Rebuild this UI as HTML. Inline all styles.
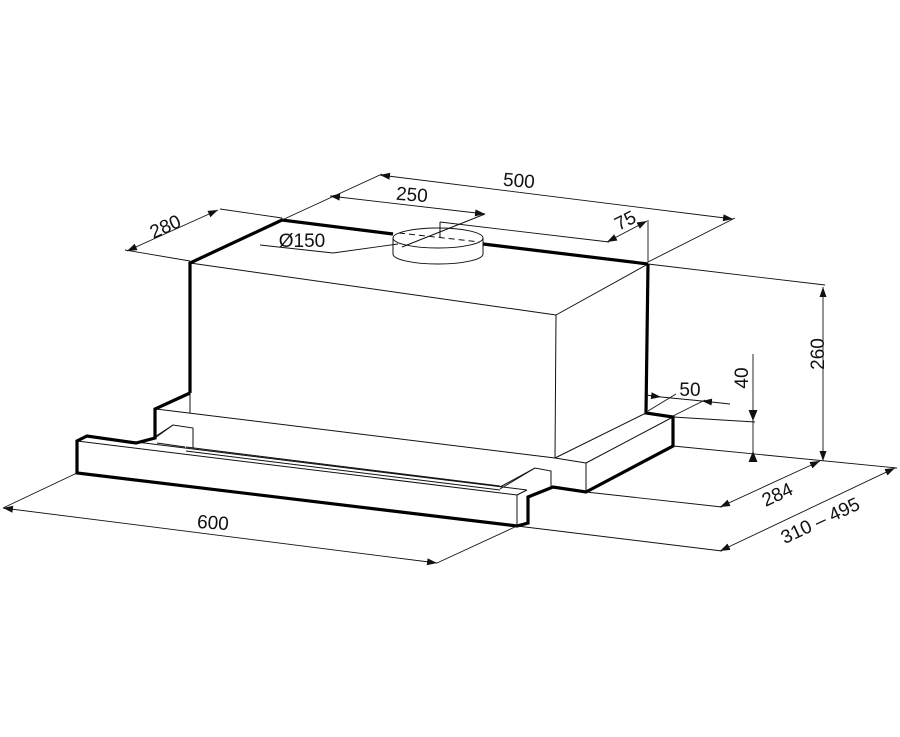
<!DOCTYPE html>
<html><head><meta charset="utf-8"><style>
html,body{margin:0;padding:0;background:#fff;}
svg{display:block;}
text{font-family:"Liberation Sans",sans-serif;font-size:19px;fill:#111;}
</style></head><body>
<svg width="900" height="737" viewBox="0 0 900 737" xmlns="http://www.w3.org/2000/svg">
<defs>
<marker id="a" viewBox="0 0 10 10" refX="10" refY="5" markerWidth="10" markerHeight="10" orient="auto-start-reverse" markerUnits="userSpaceOnUse"><path d="M0,1.5 L10,5 L0,8.5 z" fill="#111"/></marker>
</defs>
<g stroke="#111" fill="none" stroke-width="1">
<line x1="190" y1="263" x2="556" y2="315"/>
<line x1="556" y1="315" x2="648" y2="264"/>
<line x1="556" y1="315" x2="555" y2="458"/>
<line x1="190" y1="393" x2="190" y2="413"/>
<line x1="156" y1="409" x2="555" y2="458"/>
<line x1="555" y1="458" x2="586" y2="463"/>
<line x1="586" y1="463" x2="586" y2="492"/>
<line x1="555" y1="458" x2="646" y2="413"/>
<line x1="586" y1="463" x2="673" y2="417"/>
<polyline points="155,438 173,425 193,428 193,448"/>
<line x1="157" y1="443" x2="185" y2="447"/>
<line x1="173" y1="425" x2="150" y2="440"/>
<line x1="186" y1="447" x2="500" y2="486"/>
<line x1="186" y1="451" x2="500" y2="490"/>
<polyline points="500,487 535,468 551,471 551,487"/>
<line x1="535" y1="468" x2="500" y2="489"/>
<line x1="87" y1="436" x2="527" y2="490"/>
<line x1="77" y1="441" x2="517" y2="495"/>
<line x1="517" y1="495" x2="527" y2="490"/>
<line x1="517" y1="495" x2="517" y2="526"/>
<path d="M393,238 L393,254 A45,10 0 0 0 483,254 L483,238" fill="#fff"/>
<ellipse cx="438" cy="238" rx="45" ry="10" fill="#fff"/>
<line x1="399" y1="233" x2="480" y2="242" stroke-dasharray="6,4"/>
<line x1="485" y1="214" x2="402" y2="247"/>
<line x1="440" y1="222" x2="440" y2="238"/>
</g>
<g stroke="#000" fill="none" stroke-width="3.2" stroke-linejoin="miter">
<polyline points="190,393 190,263 282,220 393,234"/>
<line x1="483" y1="244" x2="648" y2="264"/>
<polyline points="648,264 646,413 673,417 673,446 586,492 553,487 528,497 528,523 517,526 77,473 77,441 87,436 136,443 155,438 155,409 190,393"/>
</g>
<g stroke="#111" fill="none" stroke-width="0.9">
<line x1="282" y1="220" x2="382" y2="174"/>
<line x1="380" y1="175" x2="733" y2="219" marker-start="url(#a)" marker-end="url(#a)"/>
<line x1="648" y1="262" x2="735" y2="218"/>
<line x1="330" y1="196" x2="485" y2="214" marker-start="url(#a)" marker-end="url(#a)"/>
<line x1="127" y1="251" x2="218" y2="210" marker-start="url(#a)" marker-end="url(#a)"/>
<line x1="125" y1="250" x2="190" y2="261"/>
<line x1="220" y1="209" x2="282" y2="218"/>
<polyline points="260,245 333,253 398,244"/>
<line x1="440" y1="222" x2="609" y2="242"/>
<line x1="648" y1="220" x2="648" y2="262"/>
<line x1="607" y1="242" x2="647" y2="221" marker-start="url(#a)" marker-end="url(#a)"/>
<line x1="648" y1="264" x2="825" y2="285"/>
<line x1="823" y1="287" x2="823" y2="461" marker-start="url(#a)" marker-end="url(#a)"/>
<line x1="673" y1="446" x2="897" y2="468"/>
<line x1="673" y1="417" x2="755" y2="422"/>
<line x1="753" y1="354" x2="753" y2="461"/>
</g>
<g fill="#111">
<path d="M748.5,410 L757.5,410 L753,421 z"/>
<path d="M748.5,462 L757.5,462 L753,451 z"/>
</g>
<g stroke="#111" fill="none" stroke-width="0.9">
<line x1="648" y1="411" x2="676" y2="394"/>
<line x1="673" y1="416" x2="705" y2="400"/>
<line x1="646" y1="395" x2="661" y2="397" marker-end="url(#a)"/>
<line x1="730" y1="404" x2="702" y2="401" marker-end="url(#a)"/>
<line x1="661" y1="397" x2="702" y2="401"/>
<line x1="586" y1="492" x2="722" y2="507"/>
<line x1="720" y1="507" x2="820" y2="461" marker-start="url(#a)" marker-end="url(#a)"/>
<line x1="517" y1="526" x2="722" y2="551"/>
<line x1="720" y1="551" x2="895" y2="468" marker-start="url(#a)" marker-end="url(#a)"/>
<line x1="77" y1="473" x2="3" y2="508"/>
<line x1="3" y1="508" x2="437" y2="563" marker-start="url(#a)" marker-end="url(#a)"/>
<line x1="517" y1="526" x2="437" y2="563"/>
</g>
<text x="519" y="187" text-anchor="middle" transform="rotate(5 519 180)">500</text>
<text x="412" y="201" text-anchor="middle" transform="rotate(5 412 194)">250</text>
<text x="165" y="233" text-anchor="middle" transform="rotate(-24 165 226)">280</text>
<text x="302" y="247" text-anchor="middle" font-size="20">Ø150</text>
<text x="625" y="227" text-anchor="middle" transform="rotate(-27 625 220)">75</text>
<text x="690" y="396" text-anchor="middle">50</text>
<text x="741" y="385" text-anchor="middle" transform="rotate(-90 741 378)">40</text>
<text x="817" y="361" text-anchor="middle" transform="rotate(-90 817 354)">260</text>
<text x="777" y="501" text-anchor="middle" transform="rotate(-25 777 494)">284</text>
<text x="820" y="527" text-anchor="middle" transform="rotate(-25 820 520)">310 – 495</text>
<text x="213" y="529" text-anchor="middle" transform="rotate(4 213 522)">600</text>
</svg>
</body></html>
